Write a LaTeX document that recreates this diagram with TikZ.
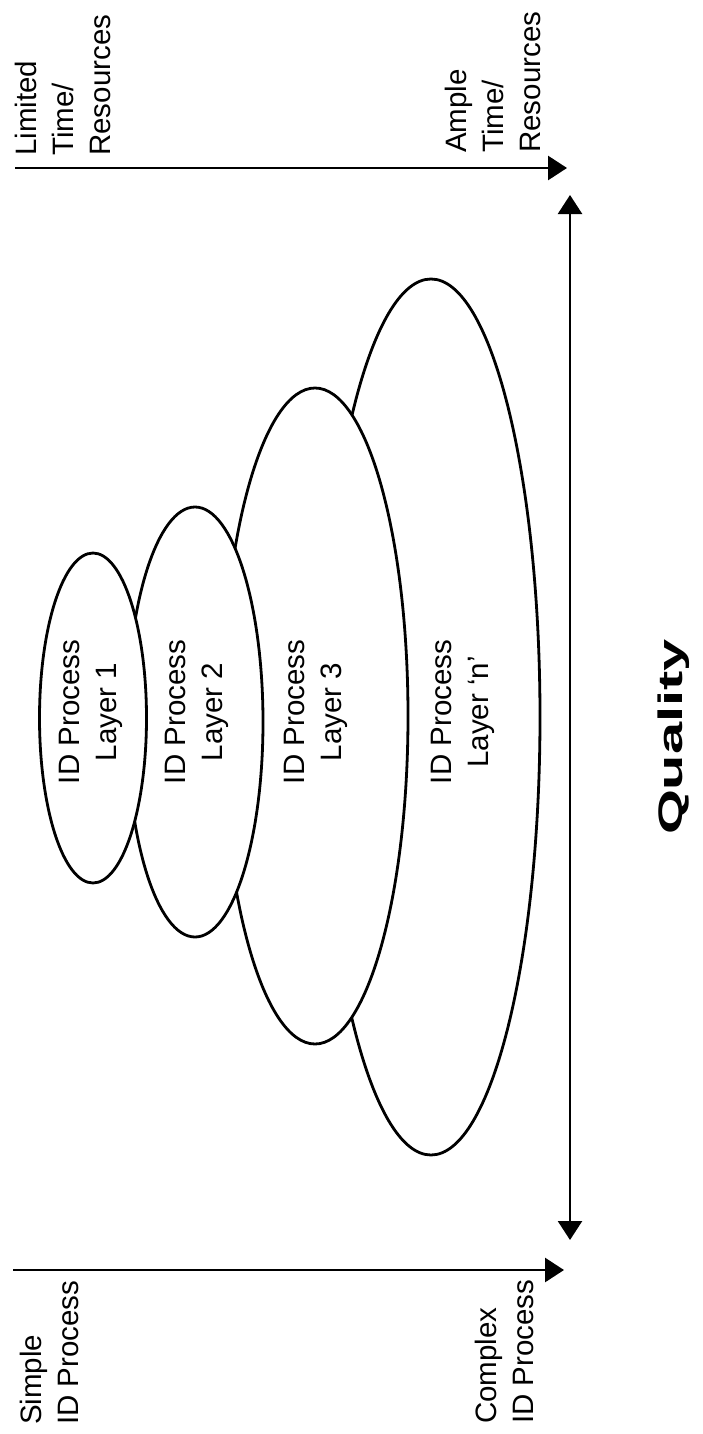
\documentclass[tikz,border=0pt]{standalone}
\usepackage{fontspec}
\setmainfont{Liberation Sans}
\usetikzlibrary{arrows.meta,shapes.geometric}
\begin{document}
\begin{tikzpicture}[x=1pt,y=-1pt,
  lbl/.style={rotate=90, inner sep=0pt, font=\fontsize{29.5}{37}\selectfont},
  cornerlbl/.style={lbl, anchor=north west, align=left},
  layerlbl/.style={lbl, align=center, anchor=center},
  layer/.style={ellipse, draw, fill=white, line width=2.8pt, inner sep=0pt, outer sep=0pt},
  axis/.style={line width=2.8pt, -{Triangle[length=19pt,width=24pt]}},
  qaxis/.style={line width=2.5pt, {Triangle[length=19pt,width=24pt]}-{Triangle[length=19pt,width=24pt]}}]
\useasboundingbox (0,0) rectangle (702,1434);
% layers, largest at the back
\node[layer, minimum width=218pt, minimum height=876pt] (en) at (431,717) {};
\node[layer, minimum width=186pt, minimum height=656pt] (e3) at (315,716) {};
\node[layer, minimum width=136pt, minimum height=430pt] (e2) at (195,722) {};
\node[layer, minimum width=107pt, minimum height=330pt] (e1) at (93,718) {};
\node[layerlbl] (t1) at (91,712) {ID Process\\Layer 1};
\node[layerlbl] (t2) at (197,712) {ID Process\\Layer 2};
\node[layerlbl] (t3) at (316,712) {ID Process\\Layer 3};
\node[layerlbl] (tn) at (463,712) {ID Process\\Layer `n'};
% top axis
\coordinate (tl) at (15,168);
\coordinate (tr) at (567,168);
\draw[axis] (tl) -- (tr);
\node[cornerlbl] (lim) at (15,156) {Limited\\Time/\\Resources};
\node[cornerlbl] (amp) at (445,153) {Ample\\Time/\\Resources};
% bottom axis
\coordinate (bl) at (13,1270);
\coordinate (br) at (564,1270);
\draw[axis] (bl) -- (br);
\node[cornerlbl] (sim) at (20,1425) {Simple\\ID Process};
\node[cornerlbl] (cpx) at (475,1424) {Complex\\ID Process};
% quality axis
\coordinate (qa) at (570,195);
\coordinate (qb) at (570,1240);
\draw[qaxis] (qa) -- (qb);
\node[rotate=90, inner sep=0pt, font=\fontsize{34}{40}\bfseries] (q) at (674,737) {\scalebox{1.7}[1]{Quality}};
\end{tikzpicture}
\end{document}
